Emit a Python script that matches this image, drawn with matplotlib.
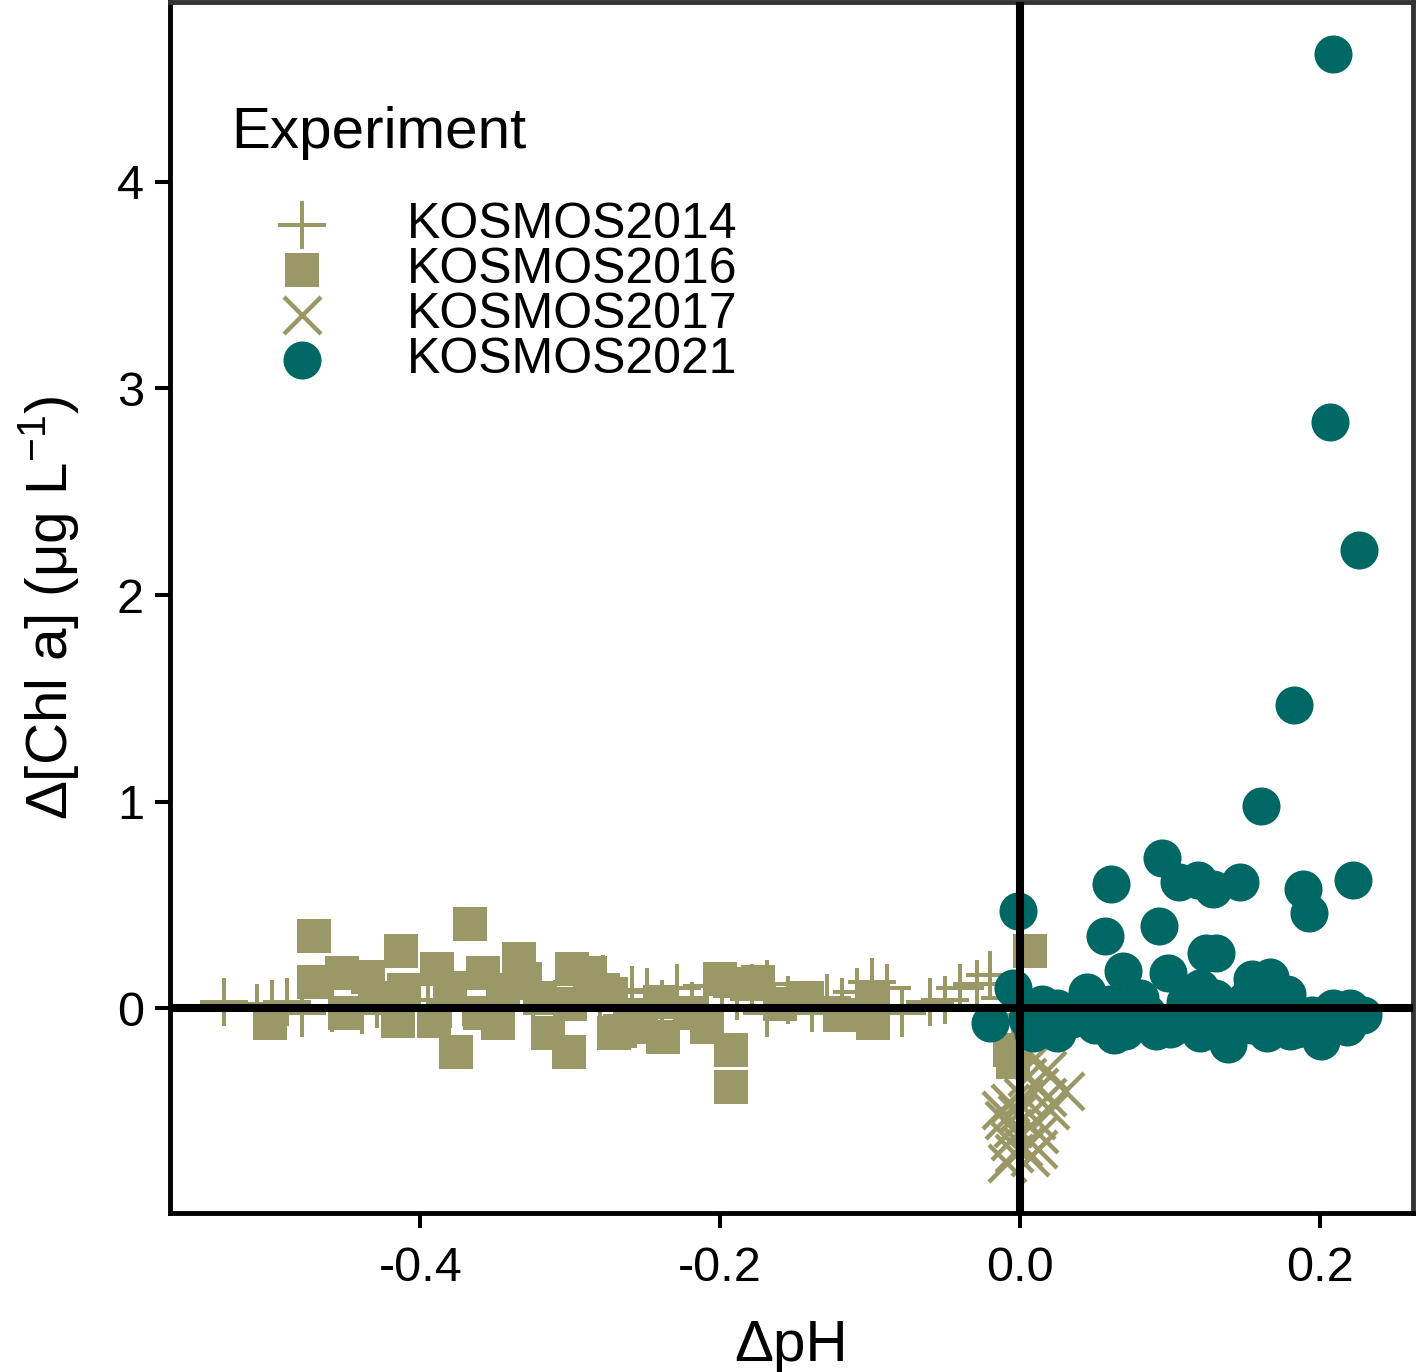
import numpy as np
import matplotlib
matplotlib.use("Agg")
import matplotlib.pyplot as plt

plt.rcParams['font.family'] = ['Liberation Sans', 'DejaVu Sans']
plt.rcParams['mathtext.fontset'] = 'custom'
plt.rcParams['mathtext.rm'] = 'Liberation Sans'
plt.rcParams['mathtext.default'] = 'regular'

# farben
olive = '#9A9866'
teal = '#006864'

# KOSMOS2014 (plus)
k14_x = [-0.531, -0.509, -0.499, -0.489, -0.479, -0.459, -0.439, -0.429, -0.419, -0.405,
         -0.395, -0.380, -0.371, -0.355, -0.340, -0.325, -0.310, -0.295, -0.280, -0.278,
         -0.259, -0.249, -0.239, -0.229, -0.219, -0.209, -0.199, -0.189, -0.179, -0.169,
         -0.169, -0.155, -0.139, -0.129, -0.119, -0.109, -0.099, -0.089, -0.079, -0.060,
         -0.050, -0.040, -0.029, -0.020, -0.010, -0.005]
k14_y = [0.03, 0.00, 0.02, 0.03, -0.02, 0.00, -0.01, 0.02, 0.05, 0.00,
         0.04, 0.02, 0.03, 0.03, 0.00, 0.05, 0.02, 0.06, 0.00, 0.14,
         0.09, 0.08, 0.02, 0.10, 0.01, 0.11, 0.11, 0.06, 0.10, 0.12,
         -0.02, 0.04, 0.00, 0.05, 0.03, 0.08, 0.13, 0.10, -0.02, 0.03,
         0.04, 0.10, 0.12, 0.16, 0.05, -0.03]

# KOSMOS2016 (square)
k16_x = [-0.471, -0.367, -0.413, -0.334, -0.299, -0.452, -0.389, -0.471, -0.435, -0.358,
         -0.287, -0.500, -0.376, -0.301, -0.315, -0.348, -0.415, -0.391, -0.271, -0.278,
         -0.411, -0.345, -0.193, -0.193, -0.267, -0.238, -0.209, -0.182, -0.200, -0.175,
         -0.253, -0.273, -0.142, -0.098, -0.098, 0.007, -0.005, -0.007,
         -0.430, -0.380, -0.320, -0.360, -0.300, -0.240, -0.220, -0.160, -0.120, -0.260,
         -0.450, -0.330]
k16_y = [0.35, 0.41, 0.28, 0.24, 0.19, 0.17, 0.19, 0.13, 0.15, 0.17,
         0.17, -0.07, -0.21, -0.21, -0.12, -0.07, -0.06, -0.06, -0.12, 0.09,
         0.09, 0.09, -0.38, -0.20, -0.11, -0.14, -0.09, 0.12, 0.14, 0.13,
         -0.09, 0.07, 0.05, 0.04, -0.07, 0.28, -0.26, -0.20,
         0.05, 0.10, 0.05, -0.02, 0.02, 0.03, -0.02, 0.02, -0.03, -0.03,
         -0.02, 0.14]

# KOSMOS2017 (x)
k17_x = [0.030, 0.018, 0.020, 0.013, -0.002, -0.007, -0.009, 0.007, 0.002, 0.013,
         0.009, -0.005, 0.011, 0.002, 0.018, 0.005, -0.004, 0.012, -0.007, -0.011, -0.013]
k17_y = [-0.40, -0.30, -0.49, -0.61, -0.51, -0.64, -0.75, -0.72, -0.43, -0.38,
         -0.25, -0.58, -0.54, -0.67, -0.43, -0.33, -0.70, -0.68, -0.46, -0.54, -0.49]

# KOSMOS2021 (circle)
k21_x = [0.209, 0.207, 0.226, 0.183, 0.161, 0.095, 0.061, 0.106, 0.119, 0.129,
         0.147, 0.189, 0.193, 0.222, -0.001, 0.057, 0.093, 0.124, 0.131, 0.069,
         0.099, 0.167, 0.155, 0.120, 0.045, 0.178, -0.005, 0.025, 0.209, 0.220,
         0.229, 0.139, 0.201, 0.063, 0.025, 0.091, 0.165, 0.218, 0.009, -0.020,
         0.035, 0.050, 0.075, 0.085, 0.105, 0.115, 0.130, 0.145, 0.155, 0.175,
         0.185, 0.195, 0.150, 0.160, 0.110, 0.080, 0.060, 0.040, 0.130, 0.170,
         0.205, 0.100, 0.070, 0.120, 0.180, 0.005, 0.015]
k21_y = [4.62, 2.84, 2.22, 1.47, 0.98, 0.73, 0.60, 0.61, 0.62, 0.58,
         0.61, 0.58, 0.46, 0.62, 0.47, 0.35, 0.40, 0.27, 0.27, 0.18,
         0.17, 0.15, 0.14, 0.10, 0.08, 0.07, 0.10, 0.00, 0.00, 0.00,
         -0.03, -0.17, -0.16, -0.13, -0.12, -0.11, -0.12, -0.09, -0.12, -0.07,
         -0.05, -0.08, -0.06, -0.02, -0.08, -0.05, -0.09, -0.04, -0.08, -0.06,
         -0.10, -0.03, 0.04, 0.02, 0.03, 0.05, 0.02, -0.02, 0.05, -0.02,
         -0.06, -0.10, -0.11, -0.12, -0.11, -0.05, 0.02]

x_ticks = [-0.4, -0.2, 0.0, 0.2]
x_ticklabels = ['-0.4', '-0.2', '0.0', '0.2']
y_ticks = [0, 1, 2, 3, 4]

fig = plt.figure(figsize=(14.17, 13.72), dpi=100)
ax = fig.add_axes([0.12, 0.1159, 0.877, 0.8826])

ax.scatter(k14_x, k14_y, marker='+', s=1190, color=olive, linewidths=2.9, label='KOSMOS2014')
ax.scatter(k16_x, k16_y, marker='s', s=600, color=olive, linewidths=0, label='KOSMOS2016')
ax.scatter(k17_x, k17_y, marker='x', s=710, color=olive, linewidths=3.2, label='KOSMOS2017')
ax.scatter(k21_x, k21_y, marker='o', s=750, color=teal, linewidths=0, label='KOSMOS2021')

# nulllinien
ax.axhline(0, color='black', lw=5.8, zorder=5)
ax.axvline(0, color='black', lw=5.8, zorder=5)

ax.set_xlim(-0.567, 0.262)
ax.set_ylim(-0.99, 4.87)
ax.set_xticks(x_ticks)
ax.set_xticklabels(x_ticklabels)
ax.set_yticks(y_ticks)
ax.tick_params(labelsize=35, length=10.8, width=2.9, color='black')
ax.tick_params(axis='x', pad=13)
ax.tick_params(axis='y', pad=8)

for side in ['top', 'right']:
    ax.spines[side].set_color('#333333')
    ax.spines[side].set_linewidth(3.5)
for side in ['left', 'bottom']:
    ax.spines[side].set_color('black')
    ax.spines[side].set_linewidth(3.5)

ax.set_xlabel('ΔpH', fontsize=42, labelpad=20)
ax.set_ylabel(r'Δ[Chl a] (μg L$^{-1}$)', fontsize=42, labelpad=26)

ax.text(0.049, 0.892, 'Experiment', transform=ax.transAxes, fontsize=42,
        ha='left', va='center')
ax.legend(loc='upper left', bbox_to_anchor=(0.05, 0.835), frameon=False,
          fontsize=36, handlelength=2.8, handletextpad=0.7, labelspacing=-0.02,
          borderpad=0, borderaxespad=0)

fig.savefig('out.png', dpi=100)
